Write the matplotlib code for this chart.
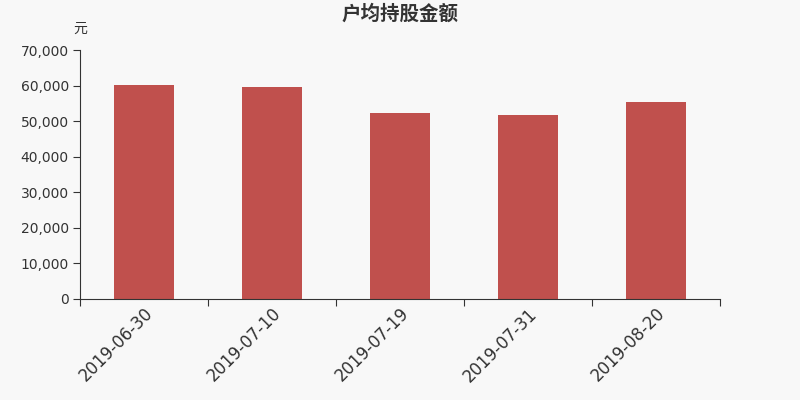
import matplotlib
matplotlib.use("Agg")
import matplotlib.pyplot as plt
from matplotlib.ticker import FuncFormatter

plt.rcParams["font.family"] = ["DejaVu Sans", "Noto Sans CJK SC"]

dates = ["2019-06-30", "2019-07-10", "2019-07-19", "2019-07-31", "2019-08-20"]
amount = [60050, 59630, 52300, 51750, 55400]

BG, BAR, TXT = "#f8f8f8", "#c0504d", "#333333"

fig = plt.figure(figsize=(8, 4), dpi=100, facecolor=BG)
ax = fig.add_axes([0.1, 0.2525, 0.8, 0.6225], facecolor=BG)

x = list(range(len(dates)))
ax.bar(x, amount, width=0.47, color=BAR, zorder=2)
ax.set_xlim(-0.5, len(dates) - 0.5)
ax.set_ylim(0, 70000)
ax.set_yticks(range(0, 70001, 10000))
ax.yaxis.set_major_formatter(FuncFormatter(lambda v, p: f"{int(v):,}"))

ax.set_xticks([i - 0.5 for i in range(len(dates) + 1)], minor=False)
ax.set_xticklabels([""] * (len(dates) + 1))
ax.set_xticks(x, minor=True)
ax.set_xticklabels(dates, minor=True, rotation=45, ha="right", rotation_mode="anchor",
                   fontsize=12, color=TXT)
ax.tick_params(axis="x", which="minor", length=0, pad=4)
ax.tick_params(axis="x", which="major", length=5, color=TXT)
ax.tick_params(axis="y", length=5, labelsize=10, colors=TXT, pad=3)

for s in ("top", "right"):
    ax.spines[s].set_visible(False)
for s in ("left", "bottom"):
    ax.spines[s].set_color(TXT)

fig.text(0.5, 0.965, "户均持股金额", ha="center", va="center", fontsize=14,
         fontweight="bold", color=TXT, family=["Noto Sans CJK SC", "DejaVu Sans"])
fig.text(0.1, 0.928, "元", ha="center", va="center", fontsize=10, color=TXT,
         family=["Noto Sans CJK SC", "DejaVu Sans"])

fig.savefig("out.png", dpi=100, facecolor=BG)
